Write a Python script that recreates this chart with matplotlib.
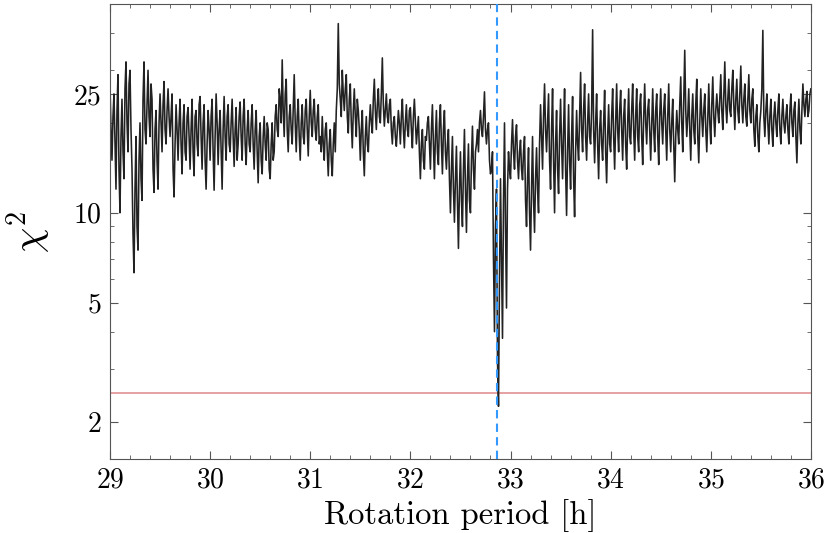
import numpy as np
import matplotlib
matplotlib.use("Agg")
import matplotlib.pyplot as plt
from matplotlib.ticker import FixedLocator, NullFormatter, MultipleLocator, LogLocator

plt.rcParams["font.family"] = "serif"
plt.rcParams["font.serif"] = ["cmr10", "DejaVu Serif"]
plt.rcParams["mathtext.fontset"] = "cm"
plt.rcParams["axes.formatter.use_mathtext"] = True

# chi^2 values, one every 0.01 h from 29.00 to 36.00
chi2 = [
    27, 19, 15, 21, 25, 17, 12, 22, 29, 14,
    10, 18, 24, 16, 13, 26, 32, 20, 16, 27,
    30, 19, 14, 8.5, 6.3, 12, 18, 9, 7.5, 15,
    20, 13, 11, 24, 32, 19, 17, 23, 30, 21,
    18, 27, 24, 14, 11.7, 19, 22, 15, 12, 20,
    25, 20, 16, 23, 27.5, 19, 17, 22, 26, 21,
    18, 21, 25, 14, 11.3, 17, 23, 19, 15, 20,
    24, 17, 13.5, 20, 23, 16, 15, 21, 22.5, 18,
    14, 19, 24, 16, 13.3, 21, 22, 17, 15.5, 23,
    24.5, 18, 14, 20, 23, 15, 12, 17, 22, 19,
    15, 21, 24, 16, 11.9, 18, 25, 20, 14.5, 19,
    22, 16, 12, 19, 24.5, 18, 15, 21, 23, 17,
    16, 20, 24, 18, 14.3, 19, 22.5, 15, 17, 21,
    23.5, 18, 15, 21, 24, 17, 14.5, 19, 22, 17,
    16, 20, 23, 17, 14, 19, 22, 16, 12.6, 18,
    20, 15, 13.5, 18, 21, 17, 15, 20, 19, 14,
    13, 17, 20, 15, 16, 21, 23, 19, 18, 26,
    24, 20, 32.5, 22, 18, 25, 28, 19, 16, 21,
    23, 19, 17, 22, 29, 20, 16, 21, 24, 18,
    15, 20, 23, 18, 17, 22, 24, 19, 15.5, 21,
    25.7, 20, 18, 22, 24, 19, 17.5, 21, 23, 17,
    18, 16, 21, 17, 15, 19, 20, 16, 13.3, 17,
    19, 15, 13.3, 17, 20, 16, 22, 26, 43, 27,
    24, 21, 30, 25, 22, 26, 29, 21, 18.5, 24,
    27, 20, 16.5, 22, 26, 21, 18, 24, 22, 19,
    15, 19, 22, 16, 13.3, 18, 21, 17, 16, 20,
    23, 20, 18.5, 24, 28, 22, 19, 23, 26, 21,
    20, 25, 33, 23, 19.5, 22, 25, 21, 20, 23,
    24, 19, 17, 20, 21, 18, 16.7, 19, 22, 20,
    17, 21, 24, 19, 16.5, 20, 23, 19, 18, 22,
    22.5, 19, 16.5, 21, 24, 20, 17, 19, 21, 16,
    13, 17, 19, 15, 14, 18, 17.5, 20, 21, 17,
    14, 19, 23, 17, 13, 18, 22, 16, 14.5, 20,
    23, 17, 13.5, 19, 22, 16, 14, 17, 19, 13,
    10, 14, 18, 12, 9.3, 13, 16.7, 11, 7.6, 12,
    16, 11, 9, 14, 19, 12, 8.6, 13, 17, 11,
    10, 15, 19.5, 14, 12, 16, 17, 19, 16, 20,
    22, 19, 18, 21, 25.4, 19, 17, 19, 20, 15,
    13.5, 14, 16, 7, 4.0, 9, 12, 3.2, 2.25, 6,
    13, 7, 3.8, 11, 20, 9, 4.8, 12, 16, 14,
    13, 17, 20.5, 16, 14, 18, 19.7, 15, 13, 16,
    17.5, 14, 12.9, 16, 18, 11, 9, 13, 16.5, 10,
    7.5, 12, 18, 11, 8.6, 13, 16.5, 12, 10, 17,
    23, 18, 14, 21, 27, 19, 16, 20, 25, 15,
    12, 19, 26, 15, 10, 17, 22, 14, 11.6, 18,
    24, 17, 13, 19, 26, 14, 9.8, 16, 23, 15,
    12, 18, 24.5, 13, 9.7, 16, 22, 17, 15, 21,
    29.5, 19, 16, 22, 27, 18, 15, 20, 25, 18,
    17, 22, 41, 19, 14.7, 20, 25, 17, 13, 19,
    22, 17, 15, 20, 25.7, 16, 12.6, 18, 23, 17,
    16, 21, 26, 18, 14, 20, 27, 19, 16, 22,
    25.7, 19, 15, 21, 24, 17, 14, 20, 26, 18,
    17, 22, 27, 19, 15, 21, 26, 18, 16, 23,
    25, 18, 14.5, 21, 27, 20, 17, 22, 24, 19,
    15, 20, 26, 19, 16, 22, 25, 18, 14.5, 21,
    26, 20, 17, 22, 25, 19, 15, 21, 27, 19,
    16, 20, 24, 17, 12.7, 18, 22, 19, 17, 23,
    28.5, 20, 16, 24, 35, 22, 18, 21, 26, 19,
    15, 21, 25, 19, 17, 23, 28, 18, 14.7, 20,
    26, 21, 18, 22, 25, 19, 16, 21, 27, 20,
    17, 23, 28.5, 21, 18, 22, 25, 22, 20, 24,
    29, 22, 19, 25, 32, 23, 20, 24, 28, 22,
    21, 26, 30, 23, 19, 24, 28, 22, 20, 25,
    31, 23, 20, 24, 27, 21, 19.5, 24, 29, 22,
    20, 24, 26, 19, 16.7, 21, 23, 18, 16, 20,
    22, 26, 40.8, 21, 18, 22, 25, 20, 17, 21,
    24, 19, 16.7, 21, 23.5, 20, 18, 22, 25, 19,
    17, 21, 24, 20, 18.5, 21, 23, 19, 17, 22,
    25, 20, 18, 22, 23.5, 18, 14.7, 20, 24, 19,
    17, 22, 27, 23, 21, 24, 25.5, 21, 22, 25,
    26,
]
period = np.round(29.0 + 0.01 * np.arange(len(chi2)), 2)

best_period = 32.866
threshold = 2.5

y_ticks = [2, 5, 10, 25]

fig = plt.figure(figsize=(8.3, 5.33), dpi=100)
ax = fig.add_axes([0.1325, 0.139, 0.8445, 0.8535])

ax.plot(period, chi2, color="#222222", lw=1.15, zorder=2)
ax.axhline(threshold, color="#e39a9a", lw=1.3, zorder=1)
ax.axvline(best_period, color="#3399ff", lw=1.5, ls=(0, (4, 2.5)), zorder=3)

ax.set_yscale("log")
ax.set_xlim(29, 36)
ax.set_ylim(1.5, 50)
ax.yaxis.set_major_locator(FixedLocator(y_ticks))
ax.set_yticklabels([str(t) for t in y_ticks])
ax.yaxis.set_minor_locator(LogLocator(base=10, subs=np.arange(2, 10)))
ax.yaxis.set_minor_formatter(NullFormatter())
ax.xaxis.set_major_locator(MultipleLocator(1))
ax.xaxis.set_minor_locator(MultipleLocator(0.2))

for s in ax.spines.values():
    s.set_color("#555555")
ax.tick_params(which="both", direction="in", top=True, right=True, color="#555555")
ax.tick_params(which="major", length=6, labelsize=20, pad=6)
ax.tick_params(which="minor", length=3)

ax.set_xlabel("Rotation period [h]", fontsize=23.5, labelpad=4)
ax.set_ylabel(r"$\chi^2$", fontsize=29, labelpad=15)

fig.savefig("out.png", dpi=100)
